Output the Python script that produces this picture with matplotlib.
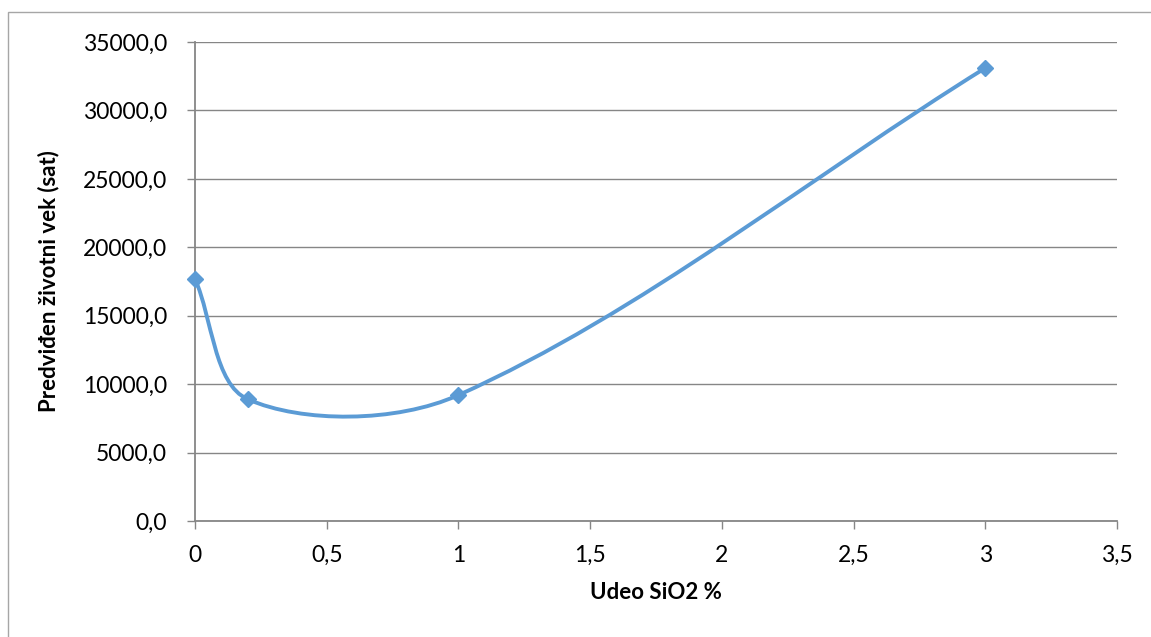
"""Predicted lifetime vs SiO2 share, Excel-style smoothed scatter."""

import numpy as np
import matplotlib

matplotlib.use("Agg")
import matplotlib.pyplot as plt
from matplotlib.path import Path
from matplotlib.patches import PathPatch, Rectangle
from matplotlib.ticker import FuncFormatter, MultipleLocator

sio2_share = [0.0, 0.2, 1.0, 3.0]
lifetime_hours = [17700.0, 8900.0, 9200.0, 33100.0]

x_ticks = [0, 0.5, 1, 1.5, 2, 2.5, 3, 3.5]
y_max = 35000
y_step = 5000

LINE_COLOR = "#5B9BD5"
GRID_COLOR = "#868686"

plt.rcParams["font.family"] = ["Lato", "DejaVu Sans"]


def excel_smooth_path(ax, xs, ys):
    """Bezier path like Excel's smoothed line (control points scaled by segment lengths)."""
    pts = ax.transData.transform(np.column_stack([xs, ys]))
    n = len(pts)
    verts = [pts[0]]
    codes = [Path.MOVETO]
    for i in range(n - 1):
        p0 = pts[i - 1] if i > 0 else pts[i]
        p1 = pts[i]
        p2 = pts[i + 1]
        p3 = pts[i + 2] if i + 2 < n else pts[i + 1]
        d01 = np.linalg.norm(p1 - p0)
        d12 = np.linalg.norm(p2 - p1)
        d23 = np.linalg.norm(p3 - p2)
        c1 = p1 + (p2 - p0) / 3.0 * (d12 / (d01 + d12))
        c2 = p2 - (p3 - p1) / 3.0 * (d12 / (d12 + d23))
        verts += [c1, c2, p2]
        codes += [Path.CURVE4] * 3
    data_verts = ax.transData.inverted().transform(np.array(verts))
    return Path(data_verts, codes)


fig = plt.figure(figsize=(11.51, 6.37), dpi=100)
fig.patches.append(
    Rectangle((8 / 1151, -0.1), 1.2, 1.1 - 12 / 637, transform=fig.transFigure,
              fill=False, edgecolor="#A6A6A6", linewidth=1.0)
)
ax = fig.add_axes([195 / 1151, 1 - 521 / 637, 922 / 1151, 479 / 637])

ax.set_xlim(0, 3.5)
ax.set_ylim(0, y_max)
ax.set_xticks(x_ticks)
ax.yaxis.set_major_locator(MultipleLocator(y_step))
ax.xaxis.set_major_formatter(FuncFormatter(lambda v, _: f"{v:g}".replace(".", ",")))
ax.yaxis.set_major_formatter(FuncFormatter(lambda v, _: f"{v:.1f}".replace(".", ",")))

ax.grid(axis="y", color=GRID_COLOR, linewidth=1.0)
ax.set_axisbelow(True)
for side in ("top", "right"):
    ax.spines[side].set_visible(False)
for side in ("left", "bottom"):
    ax.spines[side].set_color(GRID_COLOR)
    ax.spines[side].set_linewidth(1.3)
ax.tick_params(axis="both", direction="out", length=6, width=1.0, color=GRID_COLOR,
               labelsize=16.5, labelcolor="black")
ax.tick_params(axis="y", pad=14)
ax.tick_params(axis="x", pad=11)

ax.add_patch(PathPatch(excel_smooth_path(ax, sio2_share, lifetime_hours), fill=False,
                       edgecolor=LINE_COLOR, linewidth=2.8, capstyle="round", zorder=3))
ax.plot(sio2_share, lifetime_hours, linestyle="none", marker="D", markersize=8,
        color=LINE_COLOR, zorder=4, clip_on=False)

ax.set_xlabel("Udeo SiO2 %", fontsize=16, fontweight="bold", labelpad=12)
ax.set_ylabel("Predviđen životni vek (sat)", fontsize=16, fontweight="bold")
ax.yaxis.set_label_coords((59 - 195) / 922, 0.5)

fig.savefig("out.png", dpi=100)
